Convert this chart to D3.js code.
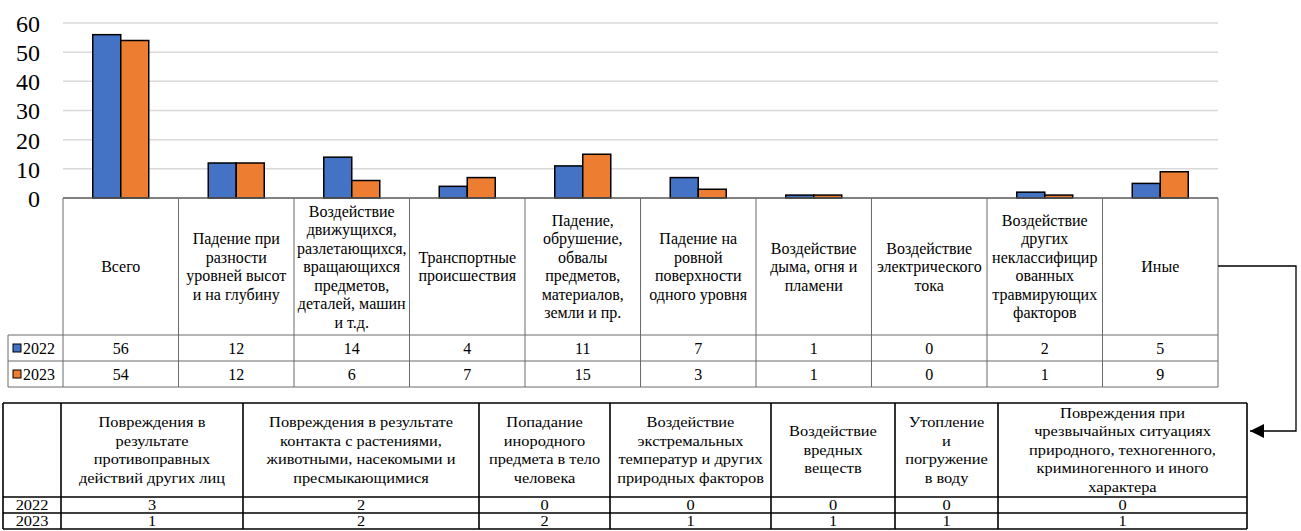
<!DOCTYPE html>
<html><head><meta charset="utf-8">
<script src="https://cdn.jsdelivr.net/npm/d3@7/dist/d3.min.js"></script>
<style>
html,body{margin:0;padding:0;background:#fff;}
</style></head>
<body><svg id="c" width="1301" height="531"></svg>
<script>
// ---- data ----
const categories = [
  ["Всего"],
  ["Падение при","разности","уровней высот","и на глубину"],
  ["Воздействие","движущихся,","разлетающихся,","вращающихся","предметов,","деталей, машин","и т.д."],
  ["Транспортные","происшествия"],
  ["Падение,","обрушение,","обвалы","предметов,","материалов,","земли и пр."],
  ["Падение на","ровной","поверхности","одного уровня"],
  ["Воздействие","дыма, огня и","пламени"],
  ["Воздействие","электрического","тока"],
  ["Воздействие","других","неклассифицир","ованных","травмирующих","факторов"],
  ["Иные"]
];
const years = ["2022","2023"];
const values2022 = [56,12,14,4,11,7,1,0,2,5];
const values2023 = [54,12,6,7,15,3,1,0,1,9];
const yTicks = [0,10,20,30,40,50,60];
const colors = ["#4472C4","#ED7D31"];

const extraCategories = [
  ["Повреждения в","результате","противоправных","действий других лиц"],
  ["Повреждения в результате","контакта с растениями,","животными, насекомыми и","пресмыкающимися"],
  ["Попадание","инородного","предмета в тело","человека"],
  ["Воздействие","экстремальных","температур и других","природных факторов"],
  ["Воздействие","вредных","веществ"],
  ["Утопление","и","погружение","в воду"],
  ["Повреждения при","чрезвычайных ситуациях","природного, техногенного,","криминогенного и иного","характера"]
];
const extra2022 = [3,2,0,0,0,0,0];
const extra2023 = [1,2,2,1,1,1,1];
const extraColBounds = [61,243,479,610,771,895,998,1247];

// ---- layout ----
const FONT = '"Liberation Serif"';
const svg = d3.select("#c");
const L = 63, R = 1218, T = 23, B = 198;
const hdrB = 335, r1B = 361, r2B = 387;
const series = [values2022, values2023];

const x = d3.scaleBand().domain(d3.range(categories.length)).range([L, R]).padding(0);
const bw = x.bandwidth();
const x1 = d3.scaleBand().domain(years).range([bw/2 - 28, bw/2 + 28]).padding(0);
const y = d3.scaleLinear().domain([0, 60]).range([B, T]);

// grid
svg.append("g").selectAll("line").data(yTicks.filter(d => d > 0)).join("line")
  .attr("x1", L).attr("x2", R).attr("y1", d => y(d)).attr("y2", d => y(d))
  .attr("stroke", "#d9d9d9").attr("stroke-width", 1.5);

// y axis labels
const yAxis = d3.axisLeft(y).tickValues(yTicks).tickSize(0).tickPadding(0);
const ya = svg.append("g").attr("transform", `translate(40,0)`).call(yAxis);
ya.select(".domain").remove();
ya.selectAll("text").style("font-family", FONT).style("font-size", "24px").attr("fill", "#000").attr("dy", "0.35em");

// bars
years.forEach((yr, si) => {
  svg.append("g").selectAll("rect").data(series[si]).join("rect")
    .attr("x", (d, i) => x(i) + x1(yr))
    .attr("y", d => y(d))
    .attr("width", x1.bandwidth())
    .attr("height", d => B - y(d))
    .attr("fill", colors[si])
    .attr("stroke", d => d > 0 ? "#000" : "none")
    .attr("stroke-width", 1.5);
});

// upper data table
const tg = svg.append("g");
const lineCol = "#6b6b6b";
tg.append("line").attr("x1", L).attr("x2", R).attr("y1", B).attr("y2", B).attr("stroke", "#595959").attr("stroke-width", 1.5);
const vx = d3.range(categories.length + 1).map(i => i < categories.length ? x(i) : R);
tg.selectAll("line.v").data(vx).join("line").attr("class", "v")
  .attr("x1", d => d).attr("x2", d => d).attr("y1", B).attr("y2", r2B)
  .attr("stroke", lineCol).attr("stroke-width", 1);
tg.append("line").attr("x1", 8).attr("x2", 8).attr("y1", hdrB).attr("y2", r2B).attr("stroke", lineCol);
[hdrB, r1B, r2B].forEach(yy => {
  tg.append("line").attr("x1", 8).attr("x2", R).attr("y1", yy).attr("y2", yy).attr("stroke", lineCol).attr("stroke-width", 1);
});
const lh = 18.5;
categories.forEach((lines, i) => {
  const cx = x(i) + bw/2, cy = (B + hdrB)/2;
  const t = tg.append("text").attr("text-anchor", "middle").style("font-family", FONT).style("font-size", "16px").attr("fill", "#000");
  lines.forEach((ln, j) => {
    t.append("tspan").attr("x", cx).attr("y", cy + (j - (lines.length - 1)/2) * lh).attr("dy", "0.35em").text(ln);
  });
});
const rowY = [(hdrB + r1B)/2, (r1B + r2B)/2];
years.forEach((yr, si) => {
  tg.append("rect").attr("x", 13).attr("y", rowY[si] - 4).attr("width", 8).attr("height", 8)
    .attr("fill", colors[si]).attr("stroke", "#000").attr("stroke-width", 1);
  tg.append("text").attr("x", 23).attr("y", rowY[si]).attr("dy", "0.35em").style("font-family", FONT).style("font-size", "16px").text(yr);
  tg.selectAll(null).data(series[si]).join("text")
    .attr("x", (d, i) => x(i) + bw/2).attr("y", rowY[si]).attr("dy", "0.35em")
    .attr("text-anchor", "middle").style("font-family", FONT).style("font-size", "16px").text(d => d);
});

// connector arrow
svg.append("defs").append("marker").attr("id", "arr").attr("viewBox", "0 0 10 10")
  .attr("refX", 10).attr("refY", 5).attr("markerWidth", 15).attr("markerHeight", 14)
  .attr("markerUnits", "userSpaceOnUse").attr("orient", "auto")
  .append("path").attr("d", "M0,0L10,5L0,10Z").attr("fill", "#000");
svg.append("path").attr("d", d3.line()([[R, 266], [1296, 266], [1296, 431], [1250, 431]]))
  .attr("fill", "none").attr("stroke", "#000").attr("stroke-width", 1.3).attr("marker-end", "url(#arr)");

// lower table (text appears horizontally stretched in the reference)
const lt = svg.append("g");
const lT = 403, lH = 497, lR1 = 513, lR2 = 529, lL = 3;
const lb = [lL].concat(extraColBounds);
lb.forEach(xx => lt.append("line").attr("x1", xx).attr("x2", xx).attr("y1", lT).attr("y2", lR2).attr("stroke", "#000").attr("stroke-width", 1.6));
[lT, lH, lR1, lR2].forEach(yy => lt.append("line").attr("x1", lL).attr("x2", extraColBounds[extraColBounds.length-1]).attr("y1", yy).attr("y2", yy).attr("stroke", "#000").attr("stroke-width", 1.6));
const llh = 18.5, lfs = "14px", sx = 1.17;
function stretchedText(cx, cy, lines) {
  const t = lt.append("text").attr("text-anchor", "middle").attr("transform", `translate(${cx},${cy}) scale(${sx},1)`)
    .style("font-family", FONT).style("font-size", lfs);
  lines.forEach((ln, j) => {
    t.append("tspan").attr("x", 0).attr("y", (j - (lines.length - 1)/2) * llh).attr("dy", "0.35em").text(ln);
  });
}
extraCategories.forEach((lines, i) => stretchedText((lb[i+1] + lb[i+2]) / 2, (lT + lH)/2, lines));
const extraSeries = [extra2022, extra2023];
const lRowY = [(lH + lR1)/2, (lR1 + lR2)/2];
years.forEach((yr, si) => {
  stretchedText((lb[0] + lb[1])/2, lRowY[si], [yr]);
  extraSeries[si].forEach((v, i) => stretchedText((lb[i+1] + lb[i+2]) / 2, lRowY[si], [String(v)]));
});
</script></body></html>
